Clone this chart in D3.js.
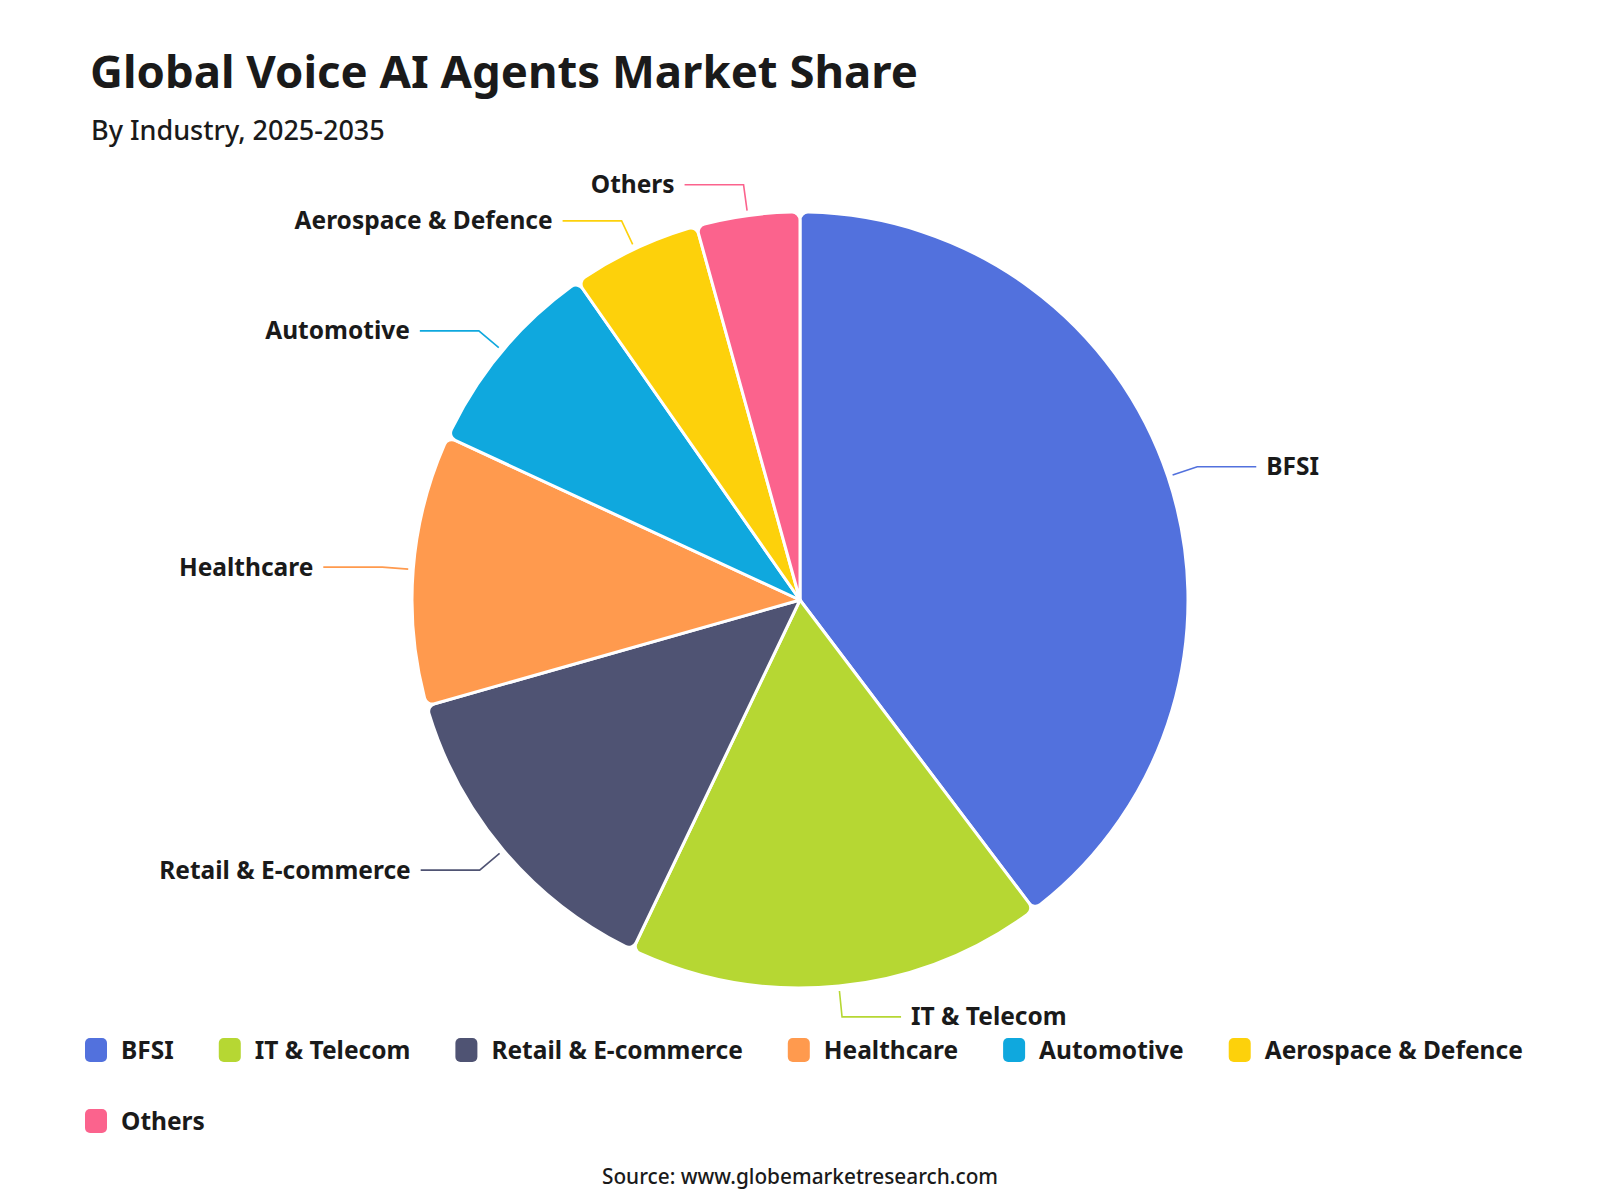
<!DOCTYPE html>
<html>
<head>
<meta charset="utf-8">
<script src="https://cdn.jsdelivr.net/npm/d3@7"></script>
<style>
  body { margin: 0; background: #fff; }
  svg { font-family: "Noto Sans", "DejaVu Sans", sans-serif; }
</style>
</head>
<body>
<svg id="chart"></svg>
<script>
// data
var categories = ["BFSI", "IT & Telecom", "Retail & E-commerce", "Healthcare", "Automotive", "Aerospace & Defence", "Others"];
var shares = [39.7, 17.4, 13.5, 11.3, 8.4, 5.4, 4.3];
var colors = ["#5271dd", "#b6d733", "#4f5373", "#ff9a4e", "#0fa8de", "#fdd10b", "#fb638d"];

var width = 1600, height = 1200;
var cx = 800, cy = 600, radius = 388;

var svg = d3.select("#chart")
    .attr("width", width)
    .attr("height", height);

// title
svg.append("text")
    .attr("x", 90)
    .attr("y", 88)
    .attr("font-size", 45.5)
    .attr("font-weight", 700)
    .attr("fill", "#1a1a1a")
    .text("Global Voice AI Agents Market Share");

svg.append("text")
    .attr("x", 91)
    .attr("y", 140)
    .attr("font-size", 27)
    .attr("font-weight", 500)
    .attr("fill", "#1a1a1a")
    .text("By Industry, 2025-2035");

var data = categories.map(function(c, i){
    return { name: c, value: shares[i], color: colors[i] };
});

var pie = d3.pie()
    .sort(null)
    .value(function(d){ return d.value; });

var arc = d3.arc()
    .innerRadius(0)
    .outerRadius(radius)
    .cornerRadius(8);

var arcs = pie(data);

var g = svg.append("g")
    .attr("transform", "translate(" + cx + "," + cy + ")");

g.selectAll("path.slice").data(arcs)
    .enter().append("path")
    .attr("class", "slice")
    .attr("d", arc)
    .attr("fill", function(d){ return d.data.color; })
    .attr("stroke", "#fff")
    .attr("stroke-width", 3)
    .attr("stroke-linejoin", "round");

// label lines
var r0 = radius + 5, r1 = radius + 31, len2 = 59, gap = 10;
function pt(a, r){ return [Math.sin(a) * r, -Math.cos(a) * r]; }

arcs.forEach(function(d){
    var mid = (d.startAngle + d.endAngle) / 2;
    var p0 = pt(mid, r0), p1 = pt(mid, r1);
    var right = Math.sin(mid) >= 0;
    var p2 = [p1[0] + (right ? len2 : -len2), p1[1]];
    g.append("polyline")
        .attr("points", [p0, p1, p2].map(function(p){ return p.join(","); }).join(" "))
        .attr("fill", "none")
        .attr("stroke", d.data.color)
        .attr("stroke-width", 1.6);
    g.append("text")
        .attr("x", p2[0] + (right ? gap : -gap))
        .attr("y", p2[1])
        .attr("dy", "0.35em")
        .attr("text-anchor", right ? "start" : "end")
        .attr("font-size", 24.5)
        .attr("font-weight", 700)
        .attr("fill", "#1a1a1a")
        .text(d.data.name);
});

// legend (flow layout)
var legendG = svg.append("g");
var lx = 85, ly = 1050, maxX = 1540, rowH = 71, itemGap = 45;
data.forEach(function(d){
    var item = legendG.append("g");
    item.append("rect")
        .attr("x", 0).attr("y", -12)
        .attr("width", 22).attr("height", 24)
        .attr("rx", 5).attr("ry", 5)
        .attr("fill", d.color);
    var t = item.append("text")
        .attr("x", 36).attr("y", 0)
        .attr("dy", "0.35em")
        .attr("font-size", 24.5)
        .attr("font-weight", 700)
        .attr("fill", "#1a1a1a")
        .text(d.name);
    var w = 36 + t.node().getComputedTextLength();
    if (lx + w > maxX) { lx = 85; ly += rowH; }
    item.attr("transform", "translate(" + lx + "," + ly + ")");
    lx += w + itemGap;
});

// source
svg.append("text")
    .attr("x", 800)
    .attr("y", 1184)
    .attr("text-anchor", "middle")
    .attr("font-size", 20.8)
    .attr("font-weight", 500)
    .attr("fill", "#1a1a1a")
    .text("Source: www.globemarketresearch.com");
</script>
</body>
</html>
